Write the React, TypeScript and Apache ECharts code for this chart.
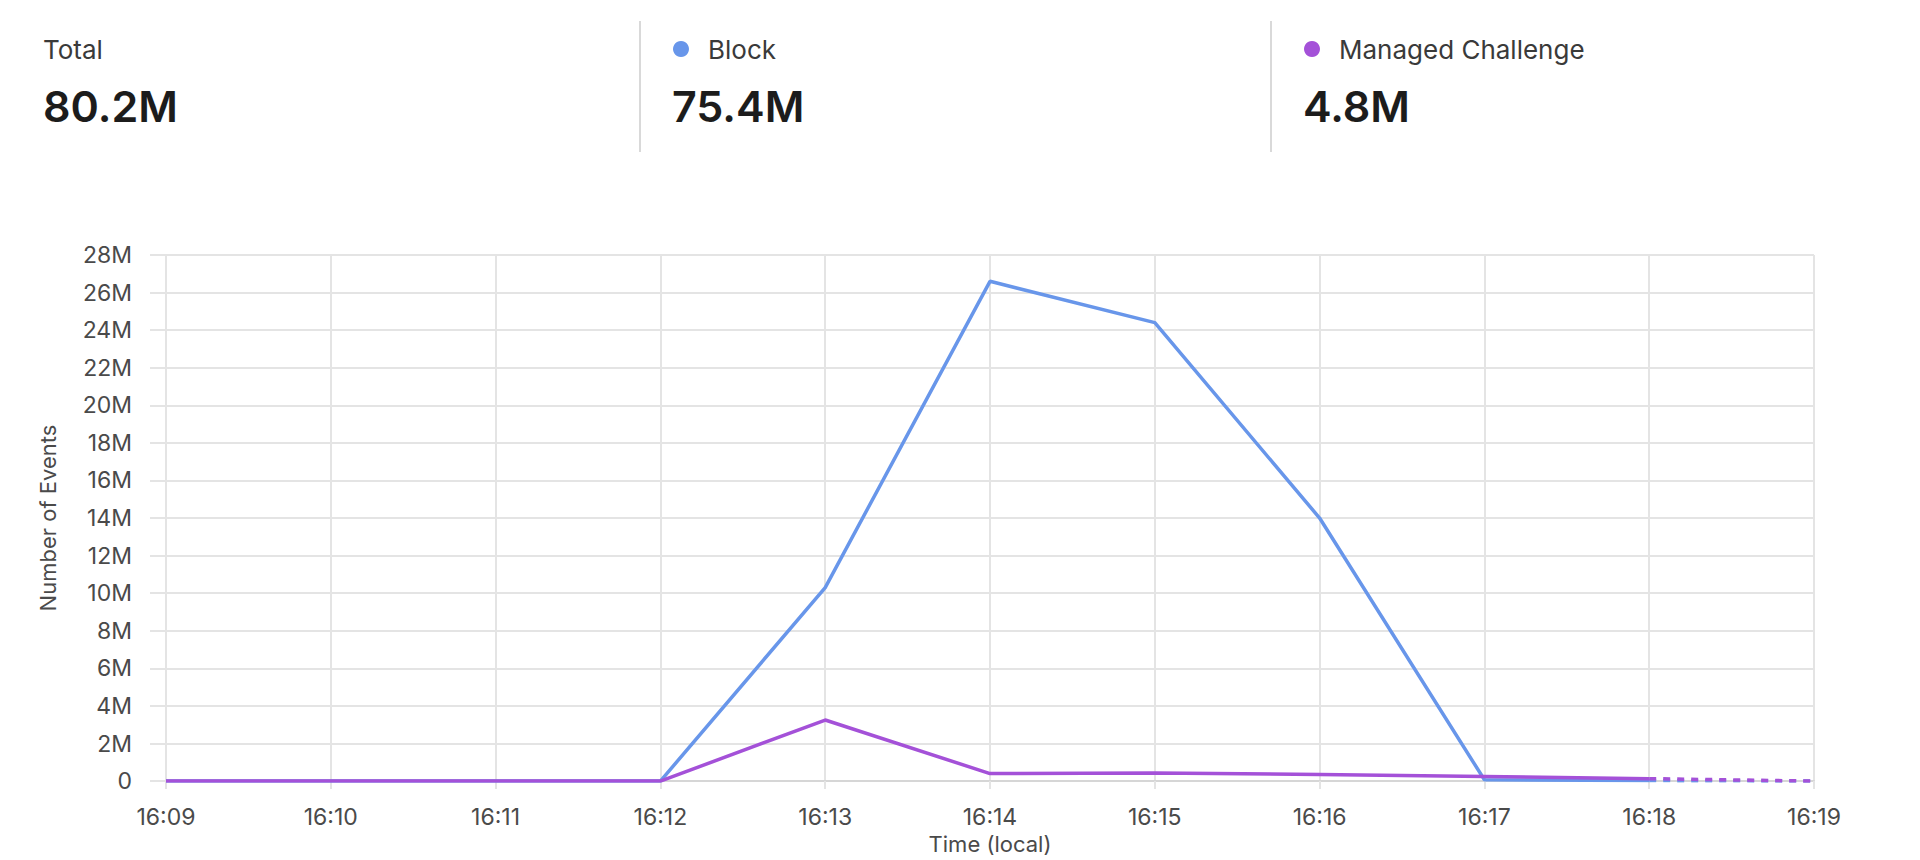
import React, { useEffect, useRef } from "react";
import * as echarts from "echarts";

const categories = ["16:09", "16:10", "16:11", "16:12", "16:13", "16:14", "16:15", "16:16", "16:17", "16:18", "16:19"];
// values in millions of events
const blockValues = [0, 0, 0, 0, 10.3, 26.6, 24.4, 14.0, 0.07, 0.03, null];
const challengeValues = [0, 0, 0, 0, 3.25, 0.4, 0.43, 0.35, 0.24, 0.13, null];
const blockPartial = [null, null, null, null, null, null, null, null, null, 0.03, 0];
const challengePartial = [null, null, null, null, null, null, null, null, null, 0.13, 0];

const summaryLabels = ["Total", "Block", "Managed Challenge"];
const summaryValues = ["80.2M", "75.4M", "4.8M"];

const BLUE = "#6896ea";
const PURPLE = "#a451d8";
const FONT = "Inter, 'Noto Sans', sans-serif";

export default function App() {
  const ref = useRef<HTMLDivElement>(null);

  useEffect(() => {
    if (!ref.current) return;
    const chart = echarts.init(ref.current, undefined, { renderer: "svg" });
    const toM = (arr: (number | null)[]) => arr.map((v) => (v === null ? null : v * 1e6));

    const colX = [43, 672, 1303];
    const dotColors = [null, BLUE, PURPLE];
    const graphics: any[] = [];
    colX.forEach((x, i) => {
      const c = dotColors[i];
      let tx = x;
      if (c) {
        graphics.push({ type: "circle", shape: { cx: x + 9, cy: 49, r: 8 }, style: { fill: c } });
        tx = x + 36;
      }
      graphics.push({
        type: "text",
        x: tx,
        y: 49,
        style: { text: summaryLabels[i], font: `400 26px ${FONT}`, fill: "#3a3a3a", textVerticalAlign: "middle", textAlign: "left" },
      });
      graphics.push({
        type: "text",
        x: x,
        y: 106,
        style: { text: summaryValues[i], font: `600 43px ${FONT}`, fill: "#1c1c1c", textVerticalAlign: "middle", textAlign: "left" },
      });
    });
    [640, 1271].forEach((x) => {
      graphics.push({ type: "line", shape: { x1: x, y1: 21, x2: x, y2: 152 }, style: { stroke: "#d9d9d9", lineWidth: 2 } });
    });

    const gridColor = "#e4e4e4";
    const labelColor = "#4a4a4a";

    chart.setOption({
      animation: false,
      backgroundColor: "#ffffff",
      graphic: graphics,
      grid: { left: 166, right: 106, top: 255, bottom: 75, containLabel: false },
      xAxis: {
        type: "category",
        data: categories,
        boundaryGap: false,
        name: "Time (local)",
        nameLocation: "middle",
        nameGap: 50,
        nameTextStyle: { color: labelColor, fontSize: 22, fontFamily: FONT },
        axisLine: { show: true, lineStyle: { color: "#d6d6d6", width: 2 } },
        axisTick: { show: true, length: 8, lineStyle: { color: gridColor, width: 2 } },
        axisLabel: { color: labelColor, fontSize: 23, fontFamily: FONT, margin: 24 },
        splitLine: { show: true, lineStyle: { color: gridColor, width: 2 } },
      },
      yAxis: {
        type: "value",
        min: 0,
        max: 28e6,
        interval: 2e6,
        name: "Number of Events",
        nameLocation: "middle",
        nameGap: 107,
        nameTextStyle: { color: labelColor, fontSize: 22, fontFamily: FONT },
        axisLine: { show: true, lineStyle: { color: gridColor, width: 2 } },
        axisTick: { show: true, length: 16, lineStyle: { color: gridColor, width: 2 } },
        axisLabel: {
          color: labelColor,
          fontSize: 23,
          fontFamily: FONT,
          margin: 34,
          formatter: (v: number) => (v === 0 ? "0" : `${v / 1e6}M`),
        },
        splitLine: { show: true, lineStyle: { color: gridColor, width: 2 } },
      },
      series: [
        {
          name: "Block",
          type: "line",
          data: toM(blockValues),
          showSymbol: false,
          symbol: "none",
          lineStyle: { color: BLUE, width: 3.5 },
          itemStyle: { color: BLUE },
          z: 2,
        },
        {
          name: "Block (partial)",
          type: "line",
          data: toM(blockPartial),
          showSymbol: false,
          symbol: "none",
          lineStyle: { color: BLUE, width: 3.5, type: [7, 7] },
          z: 2,
        },
        {
          name: "Managed Challenge",
          type: "line",
          data: toM(challengeValues),
          showSymbol: false,
          symbol: "none",
          lineStyle: { color: PURPLE, width: 3.5 },
          itemStyle: { color: PURPLE },
          z: 3,
        },
        {
          name: "Managed Challenge (partial)",
          type: "line",
          data: toM(challengePartial),
          showSymbol: false,
          symbol: "none",
          lineStyle: { color: PURPLE, width: 3.5, type: [7, 7] },
          z: 3,
        },
      ],
    });
    return () => chart.dispose();
  }, []);

  return <div ref={ref} style={{ position: "absolute", left: 0, top: 0, width: 1920, height: 860 }} />;
}
